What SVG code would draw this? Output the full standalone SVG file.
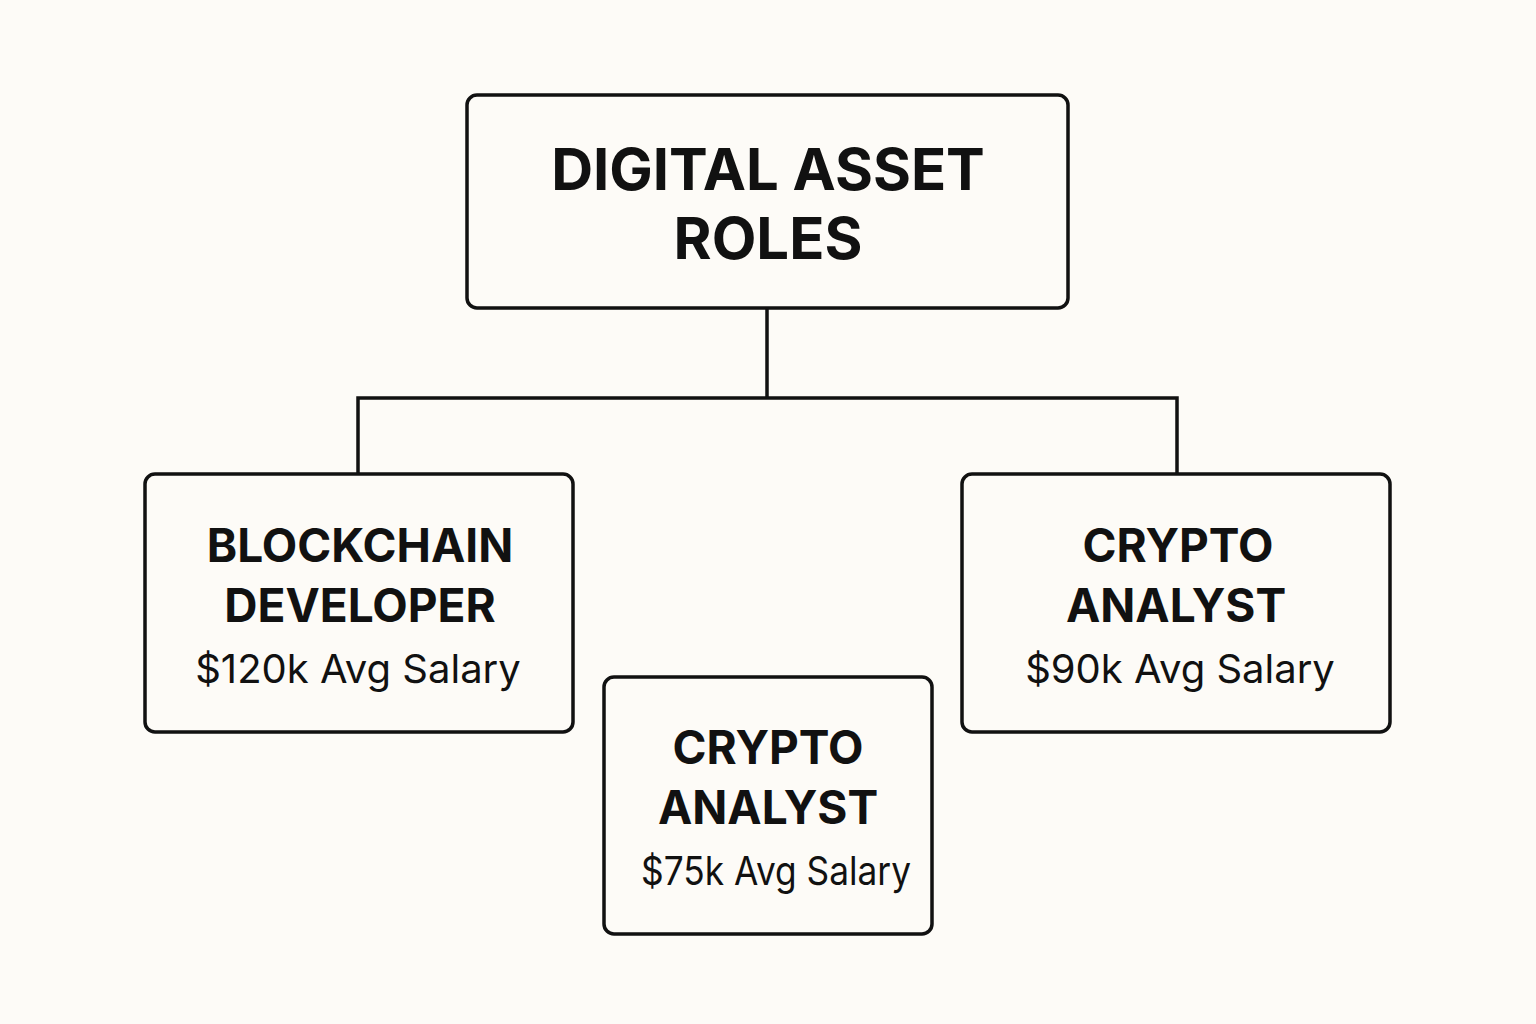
<svg xmlns="http://www.w3.org/2000/svg" width="1536" height="1024" viewBox="0 0 1536 1024">
<style>
.box{fill:#fdfbf7;stroke:#111;stroke-width:3.5}
.t{font-family:Inter,"Liberation Sans",sans-serif;font-weight:700;fill:#111;text-anchor:middle}
.s{font-family:Inter,"Liberation Sans",sans-serif;font-weight:400;fill:#111;text-anchor:middle;font-size:40px}
.c{fill:none;stroke:#111;stroke-width:3.5}
</style>
<rect width="1536" height="1024" fill="#fdfbf7"/>
<g id="connectors">
<path class="c" d="M767 308V398M358 474V398H1177V474"/>
</g>
<g id="root">
<rect class="box" x="467" y="95" width="601" height="213" rx="10"/>
<text class="t" x="768" y="190" font-size="58">DIGITAL ASSET</text>
<text class="t" x="768" y="259" font-size="58">ROLES</text>
</g>
<g id="blockchain">
<rect class="box" x="145" y="474" width="428" height="258" rx="10"/>
<text class="t" x="360" y="562" font-size="46">BLOCKCHAIN</text>
<text class="t" x="360" y="622" font-size="46">DEVELOPER</text>
<text class="s" x="358" y="683">$120k Avg Salary</text>
</g>
<g id="analyst90">
<rect class="box" x="962" y="474" width="428" height="258" rx="10"/>
<text class="t" x="1178" y="562" font-size="46">CRYPTO</text>
<text class="t" x="1176" y="622" font-size="46">ANALYST</text>
<text class="s" x="1180" y="683">$90k Avg Salary</text>
</g>
<g id="analyst75">
<rect class="box" x="604" y="677" width="328" height="257" rx="10"/>
<text class="t" x="768" y="764" font-size="46">CRYPTO</text>
<text class="t" x="768" y="824" font-size="46">ANALYST</text>
<text class="s" x="776" y="885" textLength="270" lengthAdjust="spacingAndGlyphs">$75k Avg Salary</text>
</g>
</svg>
